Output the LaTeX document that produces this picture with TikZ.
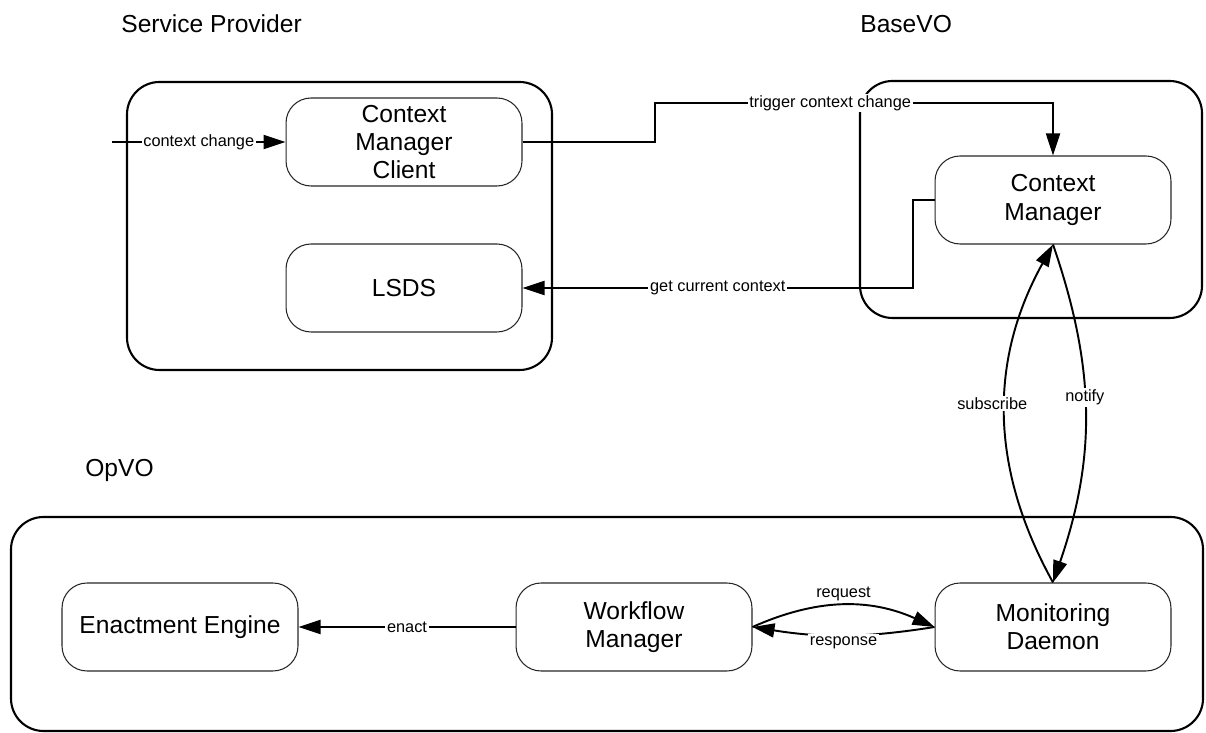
\documentclass[tikz,border=0pt]{standalone}
\usepackage{fontspec}
\setmainfont{Liberation Sans}
\usetikzlibrary{arrows.meta}
\tikzstyle{comp} = [rectangle,rounded corners=0.5cm,draw=black!85,line width=0.6pt,minimum width=4.72cm,minimum height=1.76cm,align=center,font=\fontsize{14}{16}\selectfont]
\tikzstyle{vobox} = [draw=black,line width=1.2pt,rounded corners=0.65cm]
\tikzstyle{voname} = [anchor=base west,inner sep=0pt,font=\fontsize{14}{16}\selectfont]
\tikzstyle{flow} = [draw=black,line width=1.1pt,-{Triangle[length=0.44cm,width=0.28cm]}]
\tikzstyle{lbl} = [fill=white,inner sep=1pt,font=\fontsize{9.3}{11}\selectfont]

\begin{document}
\begin{tikzpicture}[x=0.02cm,y=0.02cm]
  \useasboundingbox (0,0) rectangle (1206,733);
  % domains
  \draw[vobox] (127,363) rectangle (552,651);
  \draw[vobox] (860,415) rectangle (1202,652);
  \draw[vobox] (11,2) rectangle (1203,216);
  \node[voname] (spname) at (121,700) {Service Provider};
  \node[voname] (basename) at (860,700) {BaseVO};
  \node[voname] (opname) at (85,256) {OpVO};
  % components
  \node[comp] (cmc) at (404,591) {Context\\Manager\\Client};
  \node[comp] (lsds) at (404,445) {LSDS};
  \node[comp] (cm) at (1053,533) {Context\\Manager};
  \node[comp] (ee) at (180,106) {Enactment Engine};
  \node[comp] (wm) at (634,106) {Workflow\\Manager};
  \node[comp] (md) at (1053,106) {Monitoring\\Daemon};
  % messages
  \coordinate (ext) at (112,591);
  \draw[flow] (ext) -- node[lbl]{context change} (cmc);
  \draw[flow] (cmc.east) -- (655,591) -- (655,630) -- node[lbl,pos=0.44]{trigger context change} (1053,630) -- (cm.north);
  \draw[flow] (cm.west) -- (913,533) -- (913,445) -- node[lbl]{get current context} (lsds.east);
  \draw[flow] (md.north) to[bend left=29] node[lbl,pos=0.53,xshift=-0.26cm]{subscribe} (cm.south);
  \draw[flow] (cm.south) to[bend left=19] node[lbl,pos=0.45]{notify} (md.north);
  \draw[flow] (wm.east) to[bend left=24] node[above,inner sep=2pt,font=\fontsize{9.3}{11}\selectfont]{request} (md.west);
  \draw[flow] (md.west) to[bend left=9] node[lbl,yshift=-0.14cm]{response} (wm.east);
  \draw[flow] (wm.west) -- node[lbl]{enact} (ee.east);
\end{tikzpicture}
\end{document}
